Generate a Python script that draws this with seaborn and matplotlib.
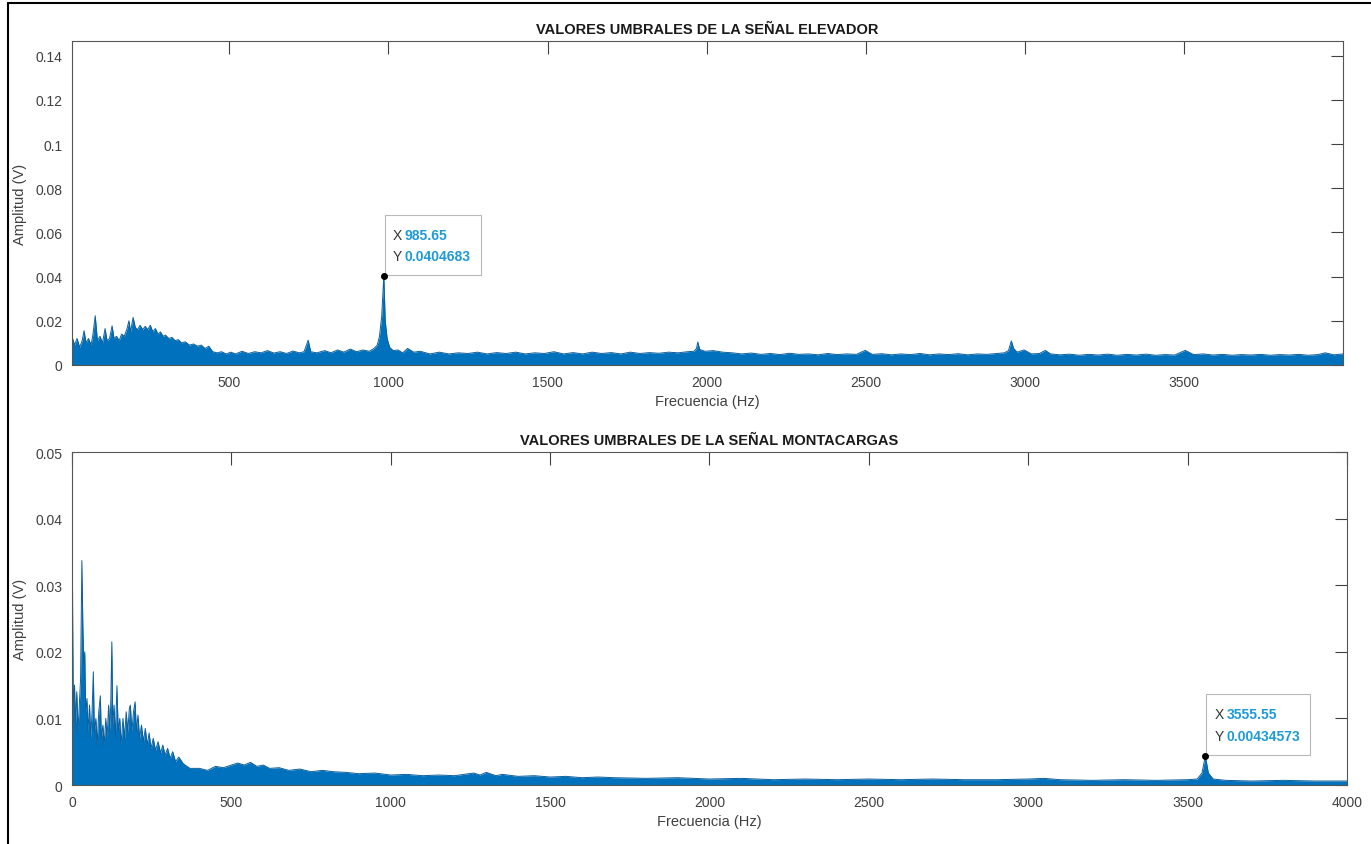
import matplotlib
matplotlib.use("Agg")
import matplotlib.pyplot as plt
import matplotlib.transforms as mtransforms
from matplotlib.lines import Line2D
from matplotlib.patches import Rectangle
from matplotlib.ticker import FuncFormatter
import pandas as pd
import seaborn as sns

# ---- data (upper envelope of both spectra) ----
elev_freq = [
    6, 14, 22, 30, 38, 44, 50, 58, 66, 72, 79, 86, 94, 102, 110, 116, 124, 132,
    138, 146, 154, 162, 170, 178, 185, 190, 198, 205, 212, 220, 228, 236, 244,
    252, 260, 268, 276, 284, 292, 300, 310, 320, 330, 340, 350, 362, 375, 388,
    400, 412, 424, 436, 448, 462, 476, 490, 505, 520, 540, 560, 580, 600, 620,
    640, 660, 680, 700, 720, 735, 748, 756, 775, 800, 820, 840, 860, 880, 900,
    920, 940, 955, 965, 972, 979, 985.65, 990, 996, 1004, 1015, 1030, 1045,
    1060, 1080, 1100, 1130, 1160, 1190, 1220, 1250, 1280, 1310, 1340, 1370,
    1400, 1430, 1460, 1490, 1520, 1550, 1580, 1610, 1640, 1670, 1700, 1730,
    1760, 1790, 1820, 1850, 1880, 1910, 1940, 1960, 1968, 1972, 1978, 1995,
    2020, 2050, 2080, 2110, 2140, 2170, 2200, 2230, 2260, 2290, 2320, 2350,
    2380, 2410, 2440, 2470, 2498, 2520, 2550, 2580, 2610, 2640, 2670, 2700,
    2730, 2760, 2790, 2820, 2850, 2880, 2910, 2935, 2948, 2957, 2964, 2975,
    2997, 3020, 3045, 3064, 3080, 3110, 3140, 3170, 3200, 3230, 3260, 3290,
    3320, 3350, 3380, 3410, 3440, 3470, 3503, 3530, 3560, 3590, 3620, 3650,
    3680, 3710, 3740, 3770, 3800, 3830, 3860, 3890, 3920, 3943, 3970, 3999,
]
elev_amp = [
    0.0130, 0.0090, 0.0120, 0.0080, 0.0110, 0.0155, 0.0100, 0.0120, 0.0090, 0.0140, 0.0223, 0.0110, 0.0130, 0.0100, 0.0165, 0.0110, 0.0120, 0.0177,
    0.0120, 0.0130, 0.0110, 0.0140, 0.0130, 0.0160, 0.0200, 0.0150, 0.0215, 0.0170, 0.0160, 0.0180, 0.0160, 0.0175, 0.0160,
    0.0180, 0.0150, 0.0165, 0.0140, 0.0150, 0.0130, 0.0135, 0.0120, 0.0125, 0.0110, 0.0115, 0.0100, 0.0105, 0.0090, 0.0095,
    0.0085, 0.0090, 0.0075, 0.0085, 0.0060, 0.0055, 0.0060, 0.0050, 0.0058, 0.0050, 0.0062, 0.0052, 0.0060, 0.0055, 0.0065,
    0.0054, 0.0060, 0.0052, 0.0063, 0.0055, 0.0060, 0.0112, 0.0060, 0.0055, 0.0065, 0.0055, 0.0068, 0.0058, 0.0072, 0.0060,
    0.0068, 0.0062, 0.0075, 0.0090, 0.0130, 0.0220, 0.0404683, 0.0200, 0.0120, 0.0080, 0.0065, 0.0068, 0.0055,
    0.0075, 0.0058, 0.0062, 0.0050, 0.0058, 0.0050, 0.0055, 0.0052, 0.0058, 0.0050, 0.0056, 0.0052,
    0.0058, 0.0050, 0.0055, 0.0052, 0.0060, 0.0050, 0.0056, 0.0050, 0.0058, 0.0052, 0.0056, 0.0050,
    0.0058, 0.0052, 0.0056, 0.0053, 0.0058, 0.0055, 0.0060, 0.0062, 0.0075, 0.0104, 0.0070, 0.0062,
    0.0065, 0.0058, 0.0055, 0.0050, 0.0054, 0.0048, 0.0052, 0.0047, 0.0053, 0.0048, 0.0050, 0.0046,
    0.0052, 0.0047, 0.0050, 0.0048, 0.0066, 0.0048, 0.0051, 0.0046, 0.0050, 0.0047, 0.0052, 0.0046,
    0.0050, 0.0047, 0.0051, 0.0046, 0.0050, 0.0048, 0.0052, 0.0055, 0.0065, 0.0109, 0.0075, 0.0058,
    0.0068, 0.0050, 0.0052, 0.0066, 0.0050, 0.0046, 0.0049, 0.0044, 0.0048, 0.0045, 0.0049, 0.0044,
    0.0048, 0.0045, 0.0049, 0.0044, 0.0047, 0.0045, 0.0066, 0.0047, 0.0050, 0.0045, 0.0048, 0.0044,
    0.0047, 0.0045, 0.0048, 0.0044, 0.0047, 0.0045, 0.0048, 0.0044, 0.0047, 0.0055, 0.0046, 0.0050,
]

mont_freq = [
    0, 2, 4, 8, 11, 15, 19, 23, 27, 31, 34, 37, 40, 43, 47, 50, 55, 59, 63, 67,
    70, 75, 79, 84, 89, 92, 97, 101, 106, 110, 115, 119, 122, 125, 128, 132, 136, 141,
    145, 150, 154, 160, 165, 170, 175, 180, 183, 188, 193, 198, 202, 207, 212,
    218, 224, 230, 236, 242, 248, 255, 262, 270, 278, 285, 292, 300, 308, 316, 325, 335, 349,
    370, 400, 425, 450, 475, 500, 520, 540, 560,
    580, 600, 620, 650, 680, 715, 750, 785, 820, 860, 900, 950, 1000, 1050,
    1100, 1150, 1200, 1230, 1260, 1280, 1300, 1330, 1350, 1400, 1450, 1500,
    1550, 1600, 1650, 1700, 1800, 1900, 2000, 2100, 2200, 2300, 2400, 2500,
    2600, 2700, 2800, 2900, 3000, 3050, 3100, 3200, 3300, 3400, 3500, 3530,
    3545, 3555.55, 3565, 3580, 3620, 3700, 3800, 3900, 4000,
]
mont_amp = [
    0.0490, 0.0260, 0.0120, 0.0150, 0.0090, 0.0140, 0.0080, 0.0120, 0.0160, 0.0337, 0.0240, 0.0180, 0.0200, 0.0110, 0.0130, 0.0080, 0.0120, 0.0070, 0.0110, 0.0170,
    0.0080, 0.0100, 0.0060, 0.0110, 0.0134, 0.0070, 0.0090, 0.0060, 0.0100, 0.0070, 0.0120, 0.0080, 0.0130, 0.0215, 0.0090, 0.0120, 0.0070, 0.0149,
    0.0080, 0.0100, 0.0060, 0.0100, 0.0070, 0.0110, 0.0080, 0.0115, 0.0120, 0.0080, 0.0110, 0.0125, 0.0080, 0.0105, 0.0070,
    0.0090, 0.0065, 0.0085, 0.0060, 0.0078, 0.0055, 0.0070, 0.0052, 0.0065, 0.0048, 0.0060, 0.0045, 0.0055, 0.0040, 0.0050, 0.0035, 0.0042, 0.0032,
    0.0025, 0.0025, 0.0022, 0.0028, 0.0026, 0.0030, 0.0033, 0.0030, 0.0034,
    0.0028, 0.0030, 0.0025, 0.0026, 0.0022, 0.0024, 0.0020, 0.0022, 0.0020, 0.0019, 0.0017, 0.0018, 0.0015, 0.0016,
    0.0014, 0.0015, 0.0014, 0.0016, 0.0018, 0.0015, 0.0019, 0.0014, 0.0016, 0.0013, 0.0014, 0.0012,
    0.0013, 0.0011, 0.0012, 0.0011, 0.0010, 0.0011, 0.0009, 0.0010, 0.0008, 0.0009, 0.0008, 0.0009,
    0.0008, 0.0009, 0.0008, 0.0008, 0.0009, 0.0010, 0.0008, 0.0007, 0.0008, 0.0007, 0.0008, 0.0009,
    0.0018, 0.00434573, 0.0018, 0.0009, 0.0007, 0.0006, 0.0007, 0.0006, 0.0006,
]

tip_elev = (985.65, 0.0404683)
tip_mont = (3555.55, 0.00434573)

BLUE = "#0072BD"
EDGE = "#0d5f9c"
TIP_BLUE = "#1E9AD6"
GRAY = "#404040"

sns.set_style("white")
plt.rcParams["font.family"] = ["Liberation Sans", "DejaVu Sans"]

fig = plt.figure(figsize=(13.71, 8.45), dpi=100)
ax1 = fig.add_axes([0.0525, 0.5669, 0.9271, 0.3834])
ax2 = fig.add_axes([0.0525, 0.0698, 0.9300, 0.3941])


def draw_panel(ax, freq, amp, title, xlim, ylim, xticks, yticks):
    df = pd.DataFrame({"f": freq, "amp": amp})
    ax.fill_between(df["f"], 0, df["amp"], color=BLUE, lw=0)
    sns.lineplot(data=df, x="f", y="amp", ax=ax, color=EDGE, lw=0.7)
    ax.set_xlim(*xlim)
    ax.set_ylim(*ylim)
    ax.set_xticks(xticks)
    ax.set_yticks(yticks)
    fmt = FuncFormatter(lambda v, pos: f"{v:g}")
    ax.xaxis.set_major_formatter(fmt)
    ax.yaxis.set_major_formatter(fmt)
    ax.tick_params(direction="in", top=True, right=True, length=9, width=0.8,
                   color=GRAY, labelcolor=GRAY, labelsize=10, pad=7)
    for sp in ax.spines.values():
        sp.set_color("#555555")
        sp.set_linewidth(0.8)
    ax.set_xlabel("Frecuencia (Hz)", fontsize=10.5, color=GRAY, labelpad=4)
    ax.set_ylabel("Amplitud (V)", fontsize=10.5, color=GRAY, labelpad=6)
    ax.set_title(title, fontsize=10.5, fontweight="bold", color="#1a1a1a", pad=6)


def datatip(ax, pt, width, height):
    """MATLAB-like data tip: box anchored in pixels at the marked point."""
    ax.plot([pt[0]], [pt[1]], "o", color="black", ms=4, zorder=8, clip_on=False)
    x0, y0 = ax.transData.transform(pt)
    rect = Rectangle((x0 + 1, y0 + 1), width, height,
                     transform=mtransforms.IdentityTransform(),
                     facecolor="white", edgecolor="#b5b5b5", lw=0.8, alpha=0.95,
                     zorder=6, clip_on=False)
    ax.add_patch(rect)
    for dy, label, value in [(height - 19, "X", f"{pt[0]:g}"),
                             (20, "Y", f"{pt[1]:g}")]:
        ax.text(pt[0], pt[1], label, fontsize=10, color="#333333", va="center",
                ha="left", zorder=7,
                transform=mtransforms.offset_copy(ax.transData, fig=fig, x=9, y=dy, units="dots"))
        ax.text(pt[0], pt[1], value, fontsize=10, color=TIP_BLUE, va="center",
                ha="left", fontweight="bold", zorder=7,
                transform=mtransforms.offset_copy(ax.transData, fig=fig, x=21, y=dy, units="dots"))


draw_panel(ax1, elev_freq, elev_amp, "VALORES UMBRALES DE LA SEÑAL ELEVADOR",
           (6, 3999), (0, 0.1467), [500, 1000, 1500, 2000, 2500, 3000, 3500],
           [0, 0.02, 0.04, 0.06, 0.08, 0.1, 0.12, 0.14])
draw_panel(ax2, mont_freq, mont_amp, "VALORES UMBRALES DE LA SEÑAL MONTACARGAS",
           (0, 4000), (0, 0.05), [0, 500, 1000, 1500, 2000, 2500, 3000, 3500, 4000],
           [0, 0.01, 0.02, 0.03, 0.04, 0.05])

datatip(ax1, tip_elev, 96, 60)
datatip(ax2, tip_mont, 104, 61)

# outer frame of the exported picture
fig.add_artist(Line2D([8 / 1371, 8 / 1371], [0, 1 - 4 / 845], color="black", lw=1.5,
                      transform=fig.transFigure))
fig.add_artist(Line2D([8 / 1371, 1], [1 - 4 / 845, 1 - 4 / 845], color="black", lw=1.5,
                      transform=fig.transFigure))

fig.savefig("out.png", dpi=100)
